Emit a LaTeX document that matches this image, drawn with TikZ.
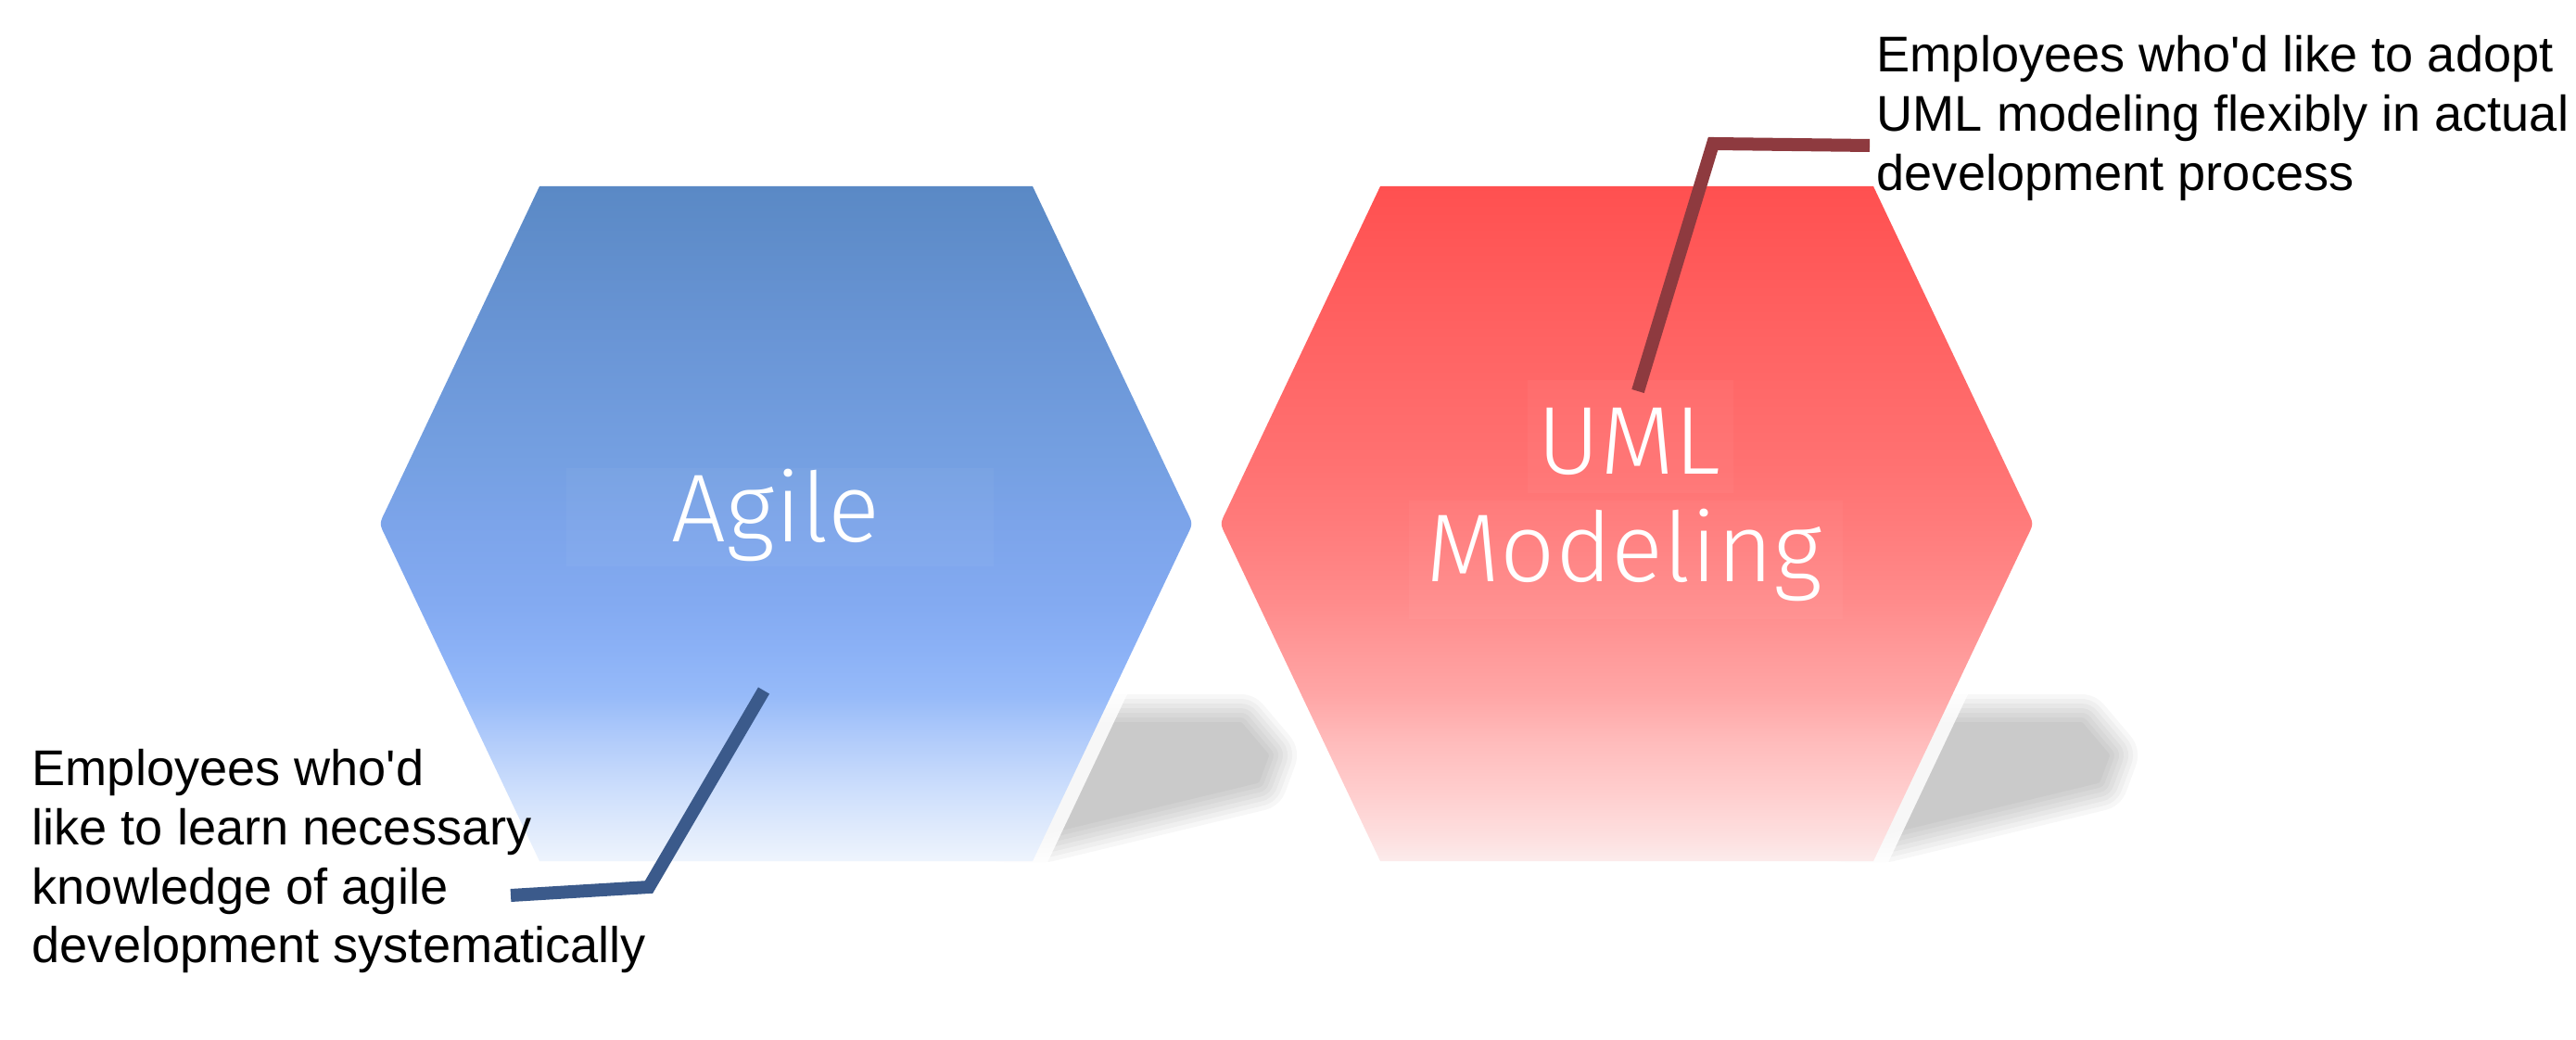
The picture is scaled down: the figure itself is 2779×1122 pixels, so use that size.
\documentclass[tikz,border=0pt]{standalone}
\usepackage{fontspec}
\setmainfont{Liberation Sans}[Ligatures=TeXOff]
\IfFontExistsTF{Fira Sans Light}{\newfontfamily\thinfont{Fira Sans Light}}{\newfontfamily\thinfont{Fira Sans}}

\definecolor{agA}{HTML}{EEF4FD}
\definecolor{agB}{HTML}{E2ECFC}
\definecolor{agC}{HTML}{CCDEFC}
\definecolor{agD}{HTML}{B2CCFA}
\definecolor{agE}{HTML}{96BAF9}
\definecolor{agF}{HTML}{8BB1F6}
\definecolor{agG}{HTML}{83AAF1}
\definecolor{agH}{HTML}{7CA4EA}
\definecolor{agI}{HTML}{75A0E2}
\definecolor{agJ}{HTML}{6894D4}
\definecolor{agK}{HTML}{5A89C5}

\definecolor{umA}{HTML}{FCEBEB}
\definecolor{umB}{HTML}{FDDEDE}
\definecolor{umC}{HTML}{FFCCCC}
\definecolor{umD}{HTML}{FFBBBB}
\definecolor{umE}{HTML}{FFA6A6}
\definecolor{umF}{HTML}{FF9999}
\definecolor{umG}{HTML}{FF8B8B}
\definecolor{umH}{HTML}{FF7B7B}
\definecolor{umI}{HTML}{FF7171}
\definecolor{umJ}{HTML}{FF6161}
\definecolor{umK}{HTML}{FF5050}

\definecolor{agLine}{HTML}{3B5A8B}
\definecolor{umLine}{HTML}{8E3A3F}

\pgfdeclareverticalshading{agileshade}{100bp}{color(0bp)=(agA); color(25bp)=(agA); color(27bp)=(agB); color(30.4bp)=(agC); color(33.9bp)=(agD); color(37.3bp)=(agE); color(40.7bp)=(agF); color(44.2bp)=(agG); color(50bp)=(agH); color(54.5bp)=(agI); color(64.8bp)=(agJ); color(75bp)=(agK); color(100bp)=(agK)}
\pgfdeclareverticalshading{umlshade}{100bp}{color(0bp)=(umA); color(25bp)=(umA); color(27bp)=(umB); color(30.4bp)=(umC); color(33.9bp)=(umD); color(37.3bp)=(umE); color(40.7bp)=(umF); color(44.2bp)=(umG); color(50bp)=(umH); color(54.5bp)=(umI); color(64.8bp)=(umJ); color(75bp)=(umK); color(100bp)=(umK)}

\def\hexagonpath{(-266,-364) -- (266,-364) -- (432,-14) .. controls (439,0) .. (432,14) -- (266,364) -- (-266,364) -- (-432,14) .. controls (-439,0) .. (-432,-14) -- cycle}

\newcommand{\softshadow}[1]{%
  \foreach \w in {66,56,46,36,26,16,6}{%
    \begin{scope}[transparency group, opacity=0.033]
      \filldraw[black, line width=\w*0.01cm, line join=round] #1;
    \end{scope}}}

\tikzset{
  lbl/.style={font=\fontsize{15.4pt}{18.07pt}\selectfont, align=left, inner sep=0pt, text=black},
  hextxt/.style={font=\thinfont\fontsize{29.6pt}{33pt}\selectfont, inner sep=0pt, text=white},
  txtback/.style={fill=white, fill opacity=0.035, draw=none},
  halo/.style={draw=white, line width=0.3cm, line join=round, draw opacity=0.85},
  agconn/.style={draw=agLine, line width=0.14cm, line join=miter},
  umconn/.style={draw=umLine, line width=0.14cm, line join=miter}
}

\begin{document}
\begin{tikzpicture}[x=0.01cm, y=-0.01cm]
  \useasboundingbox (0,0) rectangle (2779,1122);
  \fill[white] (0,0) rectangle (2779,1122);

  % soft shadows
  \softshadow{(1083,782) -- (1338,782) -- (1366,815) -- (1356,842) -- (1128,897) -- (1083,897) -- cycle}
  \softshadow{(1990,782) -- (2245,782) -- (2273,815) -- (2263,842) -- (2035,897) -- (1990,897) -- cycle}

  % Agile hexagon
  \begin{scope}[shift={(848,565)}]
    \draw[halo] \hexagonpath;
    \begin{scope}
      \clip \hexagonpath;
      \shade[shading=agileshade] (-439,-364) rectangle (439,364);
    \end{scope}
  \end{scope}

  % UML hexagon
  \begin{scope}[shift={(1755,565)}]
    \draw[halo] \hexagonpath;
    \begin{scope}
      \clip \hexagonpath;
      \shade[shading=umlshade] (-439,-364) rectangle (439,364);
    \end{scope}
  \end{scope}

  % subtle text backgrounds
  \fill[txtback] (611,505) rectangle (1072,611);
  \fill[txtback] (1648,410) rectangle (1870,532);
  \fill[txtback] (1520,540) rectangle (1988,668);

  % hexagon titles
  \node[hextxt, anchor=base] (agile) at (837,585) {Agile};
  \node[hextxt, anchor=base] (uml) at (1757,512) {UML};
  \node[hextxt, anchor=base] (modeling) at (1752,628) {Modeling};

  % labels
  \node[lbl, anchor=north west] (umlText) at (2024,38)
    {Employees who'd like to adopt\\UML modeling flexibly in actual\\development process};
  \node[lbl, anchor=north west] (agileText) at (34,808)
    {Employees who'd\\like to learn necessary\\knowledge of agile\\development systematically};

  % connectors
  \coordinate (agTip) at (824,745);
  \coordinate (agBend) at (700,957);
  \coordinate (agEnd) at (551,966);
  \draw[agconn] (agTip) -- (agBend) -- (agEnd);

  \coordinate (umTip) at (1767,422);
  \coordinate (umBend) at (1848,155);
  \coordinate (umEnd) at (2017,157);
  \draw[umconn] (umTip) -- (umBend) -- (umEnd);
\end{tikzpicture}
\end{document}
